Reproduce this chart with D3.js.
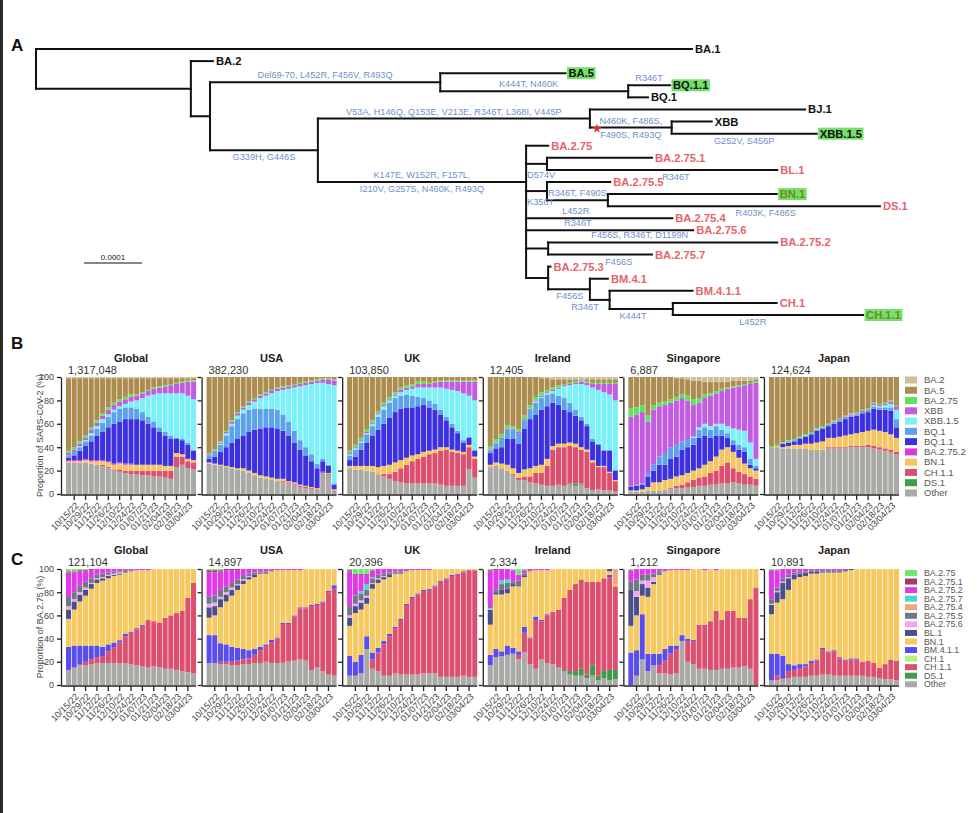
<!DOCTYPE html>
<html>
<head>
<meta charset="utf-8">
<script src="https://cdn.jsdelivr.net/npm/d3@7"></script>
<style>
  body { margin: 0; background: #fff; }
  svg { display: block; }
  text { font-family: "Liberation Sans", Arial, sans-serif; }
</style>
</head>
<body>
<svg id="canvas" width="977" height="813"></svg>
<script>
// ---------- data ----------
const regions = ["Global", "USA", "UK", "Ireland", "Singapore", "Japan"];
const bCounts = [1317048, 382230, 103850, 12405, 6887, 124624];
const cCounts = [121104, 14897, 20396, 2334, 1212, 10891];

const weeks = ["10/08/22","10/15/22","10/22/22","10/29/22","11/05/22","11/12/22","11/19/22","11/26/22",
  "12/03/22","12/10/22","12/17/22","12/24/22","12/31/22","01/07/23","01/14/23","01/21/23","01/28/23",
  "02/04/23","02/11/23","02/18/23","02/25/23","03/04/23","03/11/23"];

const bLineages = ["BA.2","BA.5","BA.2.75","XBB","XBB.1.5","BQ.1","BQ.1.1","BA.2.75.2","BN.1","CH.1.1","DS.1","Other"];
const bColors = ["#cdbf95","#ad8c50","#5fe35f","#c25de3","#7af0f8","#5ca2ea","#3c30df","#e235e2","#f5c55f","#dc4f6e","#3f9d4b","#a9a9a5"];

const cLineages = ["BA.2.75","BA.2.75.1","BA.2.75.2","BA.2.75.7","BA.2.75.4","BA.2.75.5","BA.2.75.6","BL.1","BN.1","BM.4.1.1","CH.1","CH.1.1","DS.1","Other"];
const cColors = ["#6ee86e","#a03a70","#e03ae8","#4ad6d0","#f0a678","#6c7a84","#f0a8ec","#4a4e8c","#f6c860","#5a4df0","#b4f080","#dc4f6e","#449a4c","#a9aaa5"];

// panel B: proportion of SARS-CoV-2 (%) per week
const bGlobal = {
  "Other":     [27,27,27,27,26,25,24,22,20,19,18,17,17,16,16,15,15,14,13,23,25,22,21],
  "CH.1.1":    [0,0,0,0,0,0,1,1,1,2,2,3,3,4,4,5,5,6,7,9,7,6,6],
  "BN.1":      [1,1,1,2,2,3,3,4,4,5,5,5,5,5,5,5,5,4,4,3,2,2,2],
  "BA.2.75.2": [1,1,1,1,1,1,1,1,1,1,1,1,0,0,0,0,0,0,0,0,0,0,0],
  "BQ.1.1":    [2,4,8,11,16,21,24,29,34,35,38,38,39,38,35,32,28,26,23,12,12,12,8],
  "BQ.1":      [2,3,3,4,5,6,8,9,10,11,10,10,9,7,6,5,4,3,3,1,1,2,1],
  "XBB.1.5":   [0,0,1,1,2,2,3,2,2,2,3,5,7,12,18,23,29,33,36,38,39,40,43],
  "XBB":       [2,2,2,2,3,3,3,4,4,4,4,4,4,4,4,5,5,6,7,8,9,12,15],
  "BA.2.75":   [2,2,2,2,2,2,2,2,2,2,2,2,1,1,1,1,1,1,1,1,1,1,1],
  "BA.5":      [62,59,54,49,42,36,30,25,21,18,16,14,14,12,10,8,7,6,5,4,3,2,2],
  "BA.2":      [1,1,1,1,1,1,1,1,1,1,1,1,1,1,1,1,1,1,1,1,1,1,1]
};
const bUSA = {
  "Other":     [26,25,24,23,22,21,20,18,16,14,13,12,11,10,9,8,6,5,4,3,18,16,2],
  "CH.1.1":    [0,0,0,0,0,0,0,0,0,0,0,0,0,1,1,1,1,1,1,1,1,1,1],
  "BN.1":      [1,1,1,1,1,1,2,2,2,2,2,2,2,2,1,1,1,1,1,1,0,1,1],
  "BQ.1.1":    [3,6,11,16,21,25,28,33,37,40,42,43,43,41,39,34,30,26,22,17,9,6,4],
  "BQ.1":      [3,4,6,10,14,17,19,19,18,17,16,16,16,14,12,10,8,7,6,4,2,1,1],
  "XBB.1.5":   [0,0,1,2,2,3,3,4,6,9,11,13,16,21,28,37,46,53,60,69,65,69,84],
  "XBB":       [1,1,1,1,2,2,2,2,2,2,2,2,2,2,2,2,2,2,2,2,3,4,4],
  "BA.2.75":   [1,1,1,1,1,1,1,1,1,1,1,1,1,1,1,1,1,1,1,1,1,1,1],
  "BA.5":      [65,62,55,46,37,30,25,21,18,15,13,11,9,8,7,6,5,4,3,2,1,1,2]
};
const bUK = {
  "Other":     [22,21,21,20,19,17,15,13,11,10,9,9,9,9,9,9,8,7,7,7,7,21,14],
  "CH.1.1":    [0,0,0,0,0,0,2,4,8,12,16,19,21,23,25,26,29,31,29,28,27,19,16],
  "BN.1":      [2,3,3,4,5,6,7,8,8,7,6,5,4,4,3,3,3,2,2,2,2,2,2],
  "BQ.1.1":    [5,8,14,20,26,32,36,40,43,44,43,41,41,40,37,34,28,23,19,15,8,6,5],
  "BQ.1":      [4,6,6,7,8,11,12,13,12,11,11,10,8,6,6,5,4,3,3,2,2,1,1],
  "XBB.1.5":   [1,1,1,1,2,2,3,2,2,3,4,6,8,9,11,14,19,24,29,34,40,35,42],
  "XBB":       [1,1,1,1,1,1,1,1,1,2,2,2,3,3,3,4,5,6,7,8,10,12,16],
  "BA.2.75":   [2,2,2,2,2,2,2,2,2,2,2,2,2,2,1,1,1,1,1,1,1,1,1],
  "BA.5":      [63,58,52,45,37,29,22,17,13,9,7,6,4,4,5,4,3,3,3,3,3,3,3]
};
const bIreland = {
  "Other":     [23,24,22,20,16,12,12,10,9,8,7,7,8,7,8,7,8,5,3,4,3,3,2],
  "DS.1":      [0,0,0,0,0,0,0,0,0,0,0,0,0,0,1,2,1,0,0,0,0,0,0],
  "CH.1.1":    [0,0,0,0,1,2,3,5,9,10,17,31,32,33,32,31,29,31,24,19,20,15,9],
  "BN.1":      [2,3,4,5,5,4,6,7,6,7,6,3,3,3,3,3,2,2,2,1,1,1,1],
  "BQ.1.1":    [10,12,14,22,25,25,35,42,44,47,45,37,33,29,26,24,23,20,16,18,13,18,8],
  "BQ.1":      [2,4,7,8,8,9,7,8,10,10,10,8,8,10,8,5,3,2,2,1,1,1,1],
  "XBB.1.5":   [0,0,0,0,0,0,0,0,1,1,1,2,6,10,15,22,28,33,44,46,49,47,59],
  "XBB":       [1,1,1,1,1,1,1,1,1,1,1,1,1,1,1,1,2,2,3,5,7,9,14],
  "BA.2.75":   [3,3,3,3,2,2,3,3,3,3,2,2,2,1,1,1,1,1,1,1,1,1,1],
  "BA.5":      [59,53,49,41,42,45,33,24,17,12,10,7,5,4,3,2,1,2,3,3,3,3,3],
  "BA.2":      [0,0,0,0,0,0,0,0,0,1,1,2,2,2,2,2,2,2,2,2,2,2,2]
};
const bSingapore = {
  "Other":     [2,2,2,3,3,3,4,4,5,5,6,6,7,7,8,8,9,9,10,9,8,8,7],
  "CH.1.1":    [0,0,0,0,0,0,0,1,2,3,4,6,7,8,10,12,15,18,12,10,9,7,6],
  "BN.1":      [1,1,2,3,7,7,8,8,8,8,8,8,8,10,10,12,14,13,14,12,9,7,7],
  "BQ.1.1":    [3,4,4,9,10,15,13,17,17,22,22,22,26,25,20,18,12,8,6,7,10,3,2],
  "BQ.1":      [1,1,1,3,5,7,10,10,10,7,7,6,7,7,7,8,5,4,4,4,4,5,2],
  "XBB.1.5":   [0,0,0,0,0,0,0,0,0,0,0,1,2,3,3,2,5,6,10,13,14,14,6],
  "XBB":       [59,60,61,44,47,43,41,38,38,37,33,27,21,22,26,26,28,32,35,37,39,50,65],
  "BA.2.75":   [7,6,6,5,4,3,3,3,3,3,4,5,4,3,2,2,2,1,1,1,1,1,1],
  "BA.5":      [27,26,24,33,24,22,21,19,16,14,14,16,15,11,10,8,6,5,5,4,3,2,2],
  "BA.2":      [0,0,0,0,0,0,0,0,1,1,2,3,3,4,4,4,4,4,3,3,3,3,2]
};
const bJapan = {
  "Other":     [40,40,39,39,39,39,39,38,38,38,39,39,39,39,40,40,40,40,39,38,37,36,34],
  "CH.1.1":    [0,0,0,0,0,0,0,0,0,0,1,1,1,1,1,1,1,2,2,2,2,2,2],
  "BN.1":      [0,1,1,2,3,3,4,5,6,7,8,8,9,10,10,11,12,12,14,14,14,13,12],
  "BQ.1.1":    [0,0,3,3,3,5,6,8,10,11,10,12,13,14,15,15,16,16,18,18,19,20,9],
  "BQ.1":      [0,0,0,1,1,1,1,1,1,1,1,1,1,1,1,1,1,1,2,2,2,3,7],
  "XBB.1.5":   [0,0,0,0,0,0,0,0,0,0,0,0,0,0,0,0,0,0,1,1,2,3,8],
  "XBB":       [0,0,0,0,0,0,0,0,0,0,0,1,1,1,1,1,1,1,1,1,1,2,3],
  "BA.2.75":   [1,1,1,1,1,1,1,1,1,1,1,1,1,1,1,1,1,1,1,1,1,1,1],
  "BA.5":      [59,58,56,54,53,51,49,47,44,42,40,37,35,33,31,30,28,27,22,23,22,20,24]
};

// panel C: proportion of BA.2.75 (%) per week
const cGlobal = {
  "Other":     [13,15,17,17,18,19,19,19,19,19,19,18,17,16,15,16,15,14,14,13,12,11,10],
  "CH.1.1":    [0,0,1,3,4,5,6,10,14,18,23,27,31,35,41,39,39,44,46,49,52,64,78],
  "BM.4.1.1":  [20,19,16,14,12,10,8,6,4,2,2,1,1,1,0,0,0,0,0,0,0,0,0],
  "BN.1":      [24,31,38,43,49,54,57,57,58,57,53,52,50,47,43,45,46,42,40,38,36,25,12],
  "BL.1":      [8,7,6,5,4,3,2,2,1,1,1,0,0,0,0,0,0,0,0,0,0,0,0],
  "BA.2.75.6": [3,2,2,2,1,1,1,1,1,1,0,0,0,0,0,0,0,0,0,0,0,0,0],
  "BA.2.75.5": [7,6,6,5,4,3,3,2,2,1,1,1,0,0,0,0,0,0,0,0,0,0,0],
  "BA.2.75.2": [22,17,12,9,7,5,4,3,2,2,1,1,1,1,1,0,0,0,0,0,0,0,0],
  "BA.2.75.1": [1,1,1,1,1,0,0,0,0,0,0,0,0,0,0,0,0,0,0,0,0,0,0],
  "BA.2.75":   [2,2,1,1,0,0,0,0,0,0,0,0,0,0,0,0,0,0,0,0,0,0,0]
};
const cUSA = {
  "Other":     [19,19,18,18,17,17,18,18,19,19,20,19,19,19,20,21,22,21,13,15,12,9,8],
  "CH.1.1":    [0,0,2,2,3,4,4,5,7,11,13,18,21,33,32,38,44,45,55,54,59,71,75],
  "BM.4.1.1":  [24,24,16,15,13,11,9,7,5,3,2,2,1,1,1,1,1,1,1,1,1,1,3],
  "BN.1":      [15,17,31,37,44,50,56,61,62,63,61,59,58,45,45,39,32,33,31,30,28,19,14],
  "BL.1":      [9,8,7,6,5,4,3,2,2,1,1,0,0,0,0,0,0,0,0,0,0,0,0],
  "BA.2.75.6": [3,3,2,2,2,1,1,1,0,0,0,0,0,0,0,0,0,0,0,0,0,0,0],
  "BA.2.75.5": [6,6,6,5,4,4,3,2,2,1,1,1,0,0,0,0,0,0,0,0,0,0,0],
  "BA.2.75.2": [21,20,16,14,11,8,6,4,3,2,2,1,1,1,1,1,1,0,0,0,0,0,0],
  "BA.2.75.1": [2,2,1,1,1,1,0,0,0,0,0,0,0,0,0,0,0,0,0,0,0,0,0],
  "BA.2.75":   [1,1,1,0,0,0,0,0,0,0,0,0,0,0,0,0,0,0,0,0,0,0,0]
};
const cUK = {
  "Other":     [8,8,10,31,14,12,8,8,10,9,9,9,9,10,10,10,7,7,7,7,8,7,7],
  "CH.1.1":    [0,0,0,0,8,16,27,34,39,47,60,66,69,71,72,74,82,84,87,88,89,92,92],
  "BM.4.1.1":  [17,12,16,11,6,4,3,2,1,1,1,1,1,1,1,1,1,1,1,1,1,0,0],
  "BN.1":      [26,42,39,28,55,56,53,49,46,39,28,23,20,17,16,14,10,8,5,4,2,1,1],
  "BL.1":      [7,6,6,5,4,3,2,2,1,1,0,0,0,0,0,0,0,0,0,0,0,0,0],
  "BA.2.75.6": [2,2,2,2,1,1,1,0,0,0,0,0,0,0,0,0,0,0,0,0,0,0,0],
  "BA.2.75.5": [8,7,6,5,4,3,2,2,1,1,1,0,0,0,0,0,0,0,0,0,0,0,0],
  "BA.2.75.7": [0,0,2,5,1,0,0,0,0,0,0,0,0,0,0,0,0,0,0,0,0,0,0],
  "BA.2.75.2": [30,18,14,8,6,5,4,3,2,2,1,1,1,1,1,0,0,0,0,0,0,0,0],
  "BA.2.75.1": [1,1,1,1,0,0,0,0,0,0,0,0,0,0,0,0,0,0,0,0,0,0,0],
  "BA.2.75":   [1,4,4,4,1,0,0,0,0,0,0,0,0,0,0,0,0,0,0,0,0,0,0]
};
const cIreland = {
  "Other":     [17,24,25,26,27,22,28,18,14,22,19,18,15,12,9,8,8,6,8,4,6,4,5],
  "DS.1":      [0,0,0,0,0,0,0,0,0,0,0,0,0,1,3,4,6,3,9,4,6,9,8],
  "CH.1.1":    [0,0,0,0,0,4,17,22,42,33,41,45,50,62,70,75,77,80,72,81,80,80,72],
  "BM.4.1.1":  [9,7,4,8,5,3,5,1,3,1,1,0,0,0,0,0,0,0,0,0,0,2,0],
  "BN.1":      [26,47,49,45,53,56,43,57,40,43,38,37,35,25,18,13,9,11,11,11,8,3,2],
  "BL.1":      [13,2,4,4,2,1,1,0,0,0,0,0,0,0,0,0,0,0,0,0,0,2,0],
  "BA.2.75.6": [1,0,0,0,0,0,0,0,0,0,0,0,0,0,0,0,0,0,0,0,0,0,0],
  "BA.2.75.5": [2,2,5,5,2,4,2,1,0,0,0,0,0,0,0,0,0,0,0,0,0,0,0],
  "BA.2.75.4": [0,0,0,0,0,0,0,0,0,0,0,0,0,0,0,0,0,0,0,0,0,0,13],
  "BA.2.75.7": [0,0,3,3,0,0,0,0,0,0,0,0,0,0,0,0,0,0,0,0,0,0,0],
  "BA.2.75.2": [30,17,10,9,10,5,3,1,1,1,1,0,0,0,0,0,0,0,0,0,0,0,0],
  "BA.2.75.1": [1,1,0,0,0,0,0,0,0,0,0,0,0,0,0,0,0,0,0,0,0,0,0],
  "BA.2.75":   [1,0,0,0,1,5,1,0,0,0,0,0,0,0,0,0,0,0,0,0,0,0,0]
};
const cSingapore = {
  "Other":     [0,8,22,12,17,10,10,9,10,38,20,18,14,14,13,13,14,14,15,15,16,14,0],
  "CH.1.1":    [0,0,0,0,0,7,11,18,21,0,18,20,38,38,42,51,42,50,49,43,42,60,84],
  "BM.4.1.1":  [28,22,39,15,10,10,10,7,3,5,2,1,0,0,0,0,0,0,0,0,0,0,0],
  "BN.1":      [23,30,16,49,60,68,67,65,65,56,59,61,48,47,45,35,44,36,36,42,42,26,16],
  "BL.1":      [31,16,10,8,2,1,0,0,0,0,0,0,0,0,0,0,0,0,0,0,0,0,0],
  "BA.2.75.6": [0,5,3,6,4,0,0,0,0,0,0,0,0,0,0,0,0,0,0,0,0,0,0],
  "BA.2.75.5": [7,10,5,5,3,2,1,0,0,0,0,0,0,0,0,0,0,0,0,0,0,0,0],
  "BA.2.75.2": [10,9,5,5,4,2,1,1,1,1,1,0,0,1,0,1,0,0,0,0,0,0,0],
  "BA.2.75":   [1,0,0,0,0,0,0,0,0,0,0,0,0,0,0,0,0,0,0,0,0,0,0]
};
const cJapan = {
  "Other":     [4,4,5,6,7,7,7,8,8,9,9,8,8,8,8,8,8,7,7,6,5,5,4],
  "CH.1.1":    [0,4,1,6,6,7,9,11,13,22,19,21,15,13,14,14,12,14,12,9,13,17,17],
  "BM.4.1.1":  [23,19,19,6,4,4,2,2,1,1,1,1,1,1,1,1,0,0,0,0,0,0,0],
  "BN.1":      [34,44,49,64,74,75,76,75,74,65,68,67,73,76,76,77,80,79,81,85,82,78,79],
  "BL.1":      [8,9,14,10,4,3,3,2,2,1,1,1,1,1,1,0,0,0,0,0,0,0,0],
  "BA.2.75.6": [1,1,1,1,0,0,0,0,0,0,0,0,0,0,0,0,0,0,0,0,0,0,0],
  "BA.2.75.5": [4,3,3,2,2,2,1,1,1,1,1,1,1,0,0,0,0,0,0,0,0,0,0],
  "BA.2.75.2": [25,15,8,5,3,2,2,1,1,1,1,1,1,1,0,0,0,0,0,0,0,0,0],
  "BA.2.75":   [1,1,0,0,0,0,0,0,0,0,0,0,0,0,0,0,0,0,0,0,0,0,0]
};

// panel A: tree, branch lengths in units of 1e-5 substitutions/site
const treeNodes = [
  { id: "root", parent: null, len: 0 },
  { id: "BA.1", parent: "root", len: 113.1 },
  { id: "n1", parent: "root", len: 26.7 },
  { id: "BA.2", parent: "n1", len: 3.8 },
  { id: "n2", parent: "n1", len: 3.3 },
  { id: "n3", parent: "n2", len: 39.7 },
  { id: "BA.5", parent: "n3", len: 21.6 },
  { id: "n4", parent: "n3", len: 32.4 },
  { id: "BQ.1.1", parent: "n4", len: 7.2 },
  { id: "BQ.1", parent: "n4", len: 3.4 },
  { id: "n5", parent: "n2", len: 18.6 },
  { id: "n6", parent: "n5", len: 46.9 },
  { id: "BJ.1", parent: "n6", len: 37.1 },
  { id: "n7", parent: "n6", len: 14.1 },
  { id: "XBB", parent: "n7", len: 6.9 },
  { id: "XBB.1.5", parent: "n7", len: 25 },
  { id: "n8", parent: "n5", len: 35.9, at: "BA.2.75.5" },
  { id: "BA.2.75", parent: "n8", len: 3.8 },
  { id: "n9", parent: "n8", len: 3.6 },
  { id: "BA.2.75.1", parent: "n9", len: 18.1 },
  { id: "BL.1", parent: "n9", len: 39.7 },
  { id: "n10", parent: "n8", len: 3.6 },
  { id: "BA.2.75.5", parent: "n10", len: 10.9 },
  { id: "n11", parent: "n10", len: 10.5 },
  { id: "BN.1", parent: "n11", len: 29.1 },
  { id: "DS.1", parent: "n11", len: 46.9 },
  { id: "BA.2.75.4", parent: "n8", len: 25.2 },
  { id: "BA.2.75.6", parent: "n8", len: 28.8 },
  { id: "n12", parent: "n8", len: 3.8 },
  { id: "BA.2.75.2", parent: "n12", len: 39.5 },
  { id: "BA.2.75.7", parent: "n12", len: 17.9 },
  { id: "n13", parent: "n8", len: 3.8 },
  { id: "BA.2.75.3", parent: "n13", len: 0.4 },
  { id: "n14", parent: "n13", len: 7.2 },
  { id: "BM.4.1", parent: "n14", len: 3.1 },
  { id: "n15", parent: "n14", len: 3.4 },
  { id: "BM.4.1.1", parent: "n15", len: 14.3 },
  { id: "n16", parent: "n15", len: 10.9 },
  { id: "CH.1", parent: "n16", len: 17.9 },
  { id: "CH.1.1", parent: "n16", len: 32.8 }
];
const highlighted = ["BA.5", "BQ.1.1", "XBB.1.5", "BN.1", "CH.1.1"];

// mutations on branches (f = fraction along the branch)
const mutations = [
  { node: "n3", text: "Del69-70, L452R, F456V, R493Q", side: "above", f: 0.5 },
  { node: "n4", text: "K444T, N460K", side: "above", f: 0.47 },
  { node: "BQ.1.1", text: "R346T", side: "above", f: 0.5 },
  { node: "n5", text: "G339H, G446S", side: "below", f: 0.5 },
  { node: "n6", text: "V53A, H146Q, Q153E, V213E, R346T, L368I, V445P", side: "above", f: 0.5 },
  { node: "n7", text: "N460K, F486S,", side: "above", f: 0.5 },
  { node: "n7", text: "F490S, R493Q", side: "below", f: 0.5 },
  { node: "XBB.1.5", text: "G252V, S456P", side: "below", f: 0.5 },
  { node: "n8", text: "K147E, W152R, F157L,", side: "above", f: 0.5 },
  { node: "n8", text: "I210V, G257S, N460K, R493Q", side: "below", f: 0.5 },
  { node: "n9", text: "D574V", side: "under", f: 0 },
  { node: "BL.1", text: "R346T", side: "below", f: 0.56 },
  { node: "n10", text: "K356T", side: "under", f: 0 },
  { node: "n11", text: "R346T, F490S", side: "above", f: 0.5 },
  { node: "DS.1", text: "R403K, F486S", side: "below", f: 0.58 },
  { node: "BA.2.75.4", text: "L452R", side: "above", f: 0.34 },
  { node: "BA.2.75.6", text: "R346T", side: "above", f: 0.31 },
  { node: "BA.2.75.2", text: "F456S, R346T, D1199N", side: "above", f: 0.4 },
  { node: "BA.2.75.7", text: "F456S", side: "below", f: 0.68 },
  { node: "n14", text: "F456S", side: "below", f: 0.52 },
  { node: "n15", text: "R346T", side: "below", f: -0.25 },
  { node: "n16", text: "K444T", side: "below", f: 0.37 },
  { node: "CH.1.1", text: "L452R", side: "below", f: 0.42 }
];

// ---------- drawing ----------
const svg = d3.select("#canvas");
svg.append("rect").attr("width", 977).attr("height", 813).attr("fill", "#fff");
svg.append("rect").attr("x", 0).attr("y", 0).attr("width", 3).attr("height", 813).attr("fill", "#2b2b2b");

// panel letters
[["A", 51], ["B", 349], ["C", 565]].forEach(([t, y]) => {
  svg.append("text").attr("x", 11).attr("y", y).attr("font-size", 17).attr("font-weight", "bold")
    .attr("fill", "#111").text(t);
});

// ---- tree ----
const root = d3.stratify().id(d => d.id).parentId(d => d.parent)(treeNodes);
root.eachBefore(n => { n.dist = (n.parent ? n.parent.dist : 0) + n.data.len * 1e-5; });
const tx = d3.scaleLinear().domain([0, 1e-4]).range([36, 94]);
const leafY = d3.scalePoint().domain(root.leaves().map(d => d.id)).range([49, 315]);
root.eachAfter(n => {
  if (!n.children) n.ty = leafY(n.id);
  else if (n.data.at) n.ty = leafY(n.data.at);
  else n.ty = (n.children[0].ty + n.children[n.children.length - 1].ty) / 2;
  n.tx = tx(n.dist);
});

const gTree = svg.append("g").attr("stroke", "#111").attr("stroke-width", 2).attr("stroke-linecap", "square");
root.descendants().forEach(n => {
  if (n.children) {
    gTree.append("line").attr("x1", n.tx).attr("x2", n.tx)
      .attr("y1", d3.min(n.children, c => c.ty)).attr("y2", d3.max(n.children, c => c.ty));
  }
  if (n.parent) {
    gTree.append("line").attr("x1", n.parent.tx).attr("x2", n.tx).attr("y1", n.ty).attr("y2", n.ty);
  }
});

const ba275 = root.find(n => n.id === "n8");
const gLab = svg.append("g");
root.leaves().forEach(n => {
  const inClade = n.ancestors().includes(ba275);
  const hl = highlighted.includes(n.id);
  let fill = inClade ? "#e5646a" : "#111";
  if (hl && inClade) fill = "#6f8a26";
  const t = gLab.append("text").attr("x", n.tx + 3).attr("y", n.ty).attr("dy", "0.36em")
    .attr("font-size", 11.2).attr("font-weight", "bold").attr("fill", fill).text(n.id);
  if (hl) {
    const bb = t.node().getBBox();
    gLab.insert("rect", () => t.node())
      .attr("x", bb.x - 1.5).attr("y", bb.y).attr("width", bb.width + 3).attr("height", bb.height)
      .attr("fill", "#74e06a");
  }
});

const byId = new Map(root.descendants().map(n => [n.id, n]));
mutations.forEach(m => {
  const n = byId.get(m.node);
  const p = n.parent;
  let x = p.tx + m.f * (n.tx - p.tx);
  let y = n.ty - 4;
  let anchor = "middle";
  if (m.side === "below") y = n.ty + 10;
  if (m.side === "under") { x = p.tx + 1; y = n.ty + 14; anchor = "start"; }
  svg.append("text").attr("x", x).attr("y", y).attr("text-anchor", anchor)
    .attr("font-size", 9.2).attr("fill", "#6f8fc9").text(m.text);
});

// red star on the XBB branch
const n7 = byId.get("n7");
svg.append("path").attr("d", d3.symbol().type(d3.symbolStar).size(28)())
  .attr("transform", `translate(${n7.parent.tx + 7},${n7.ty + 1})`).attr("fill", "#e0302c");

// scale bar
const sb0 = 84;
svg.append("line").attr("x1", sb0).attr("x2", sb0 + tx(1e-4) - tx(0)).attr("y1", 263).attr("y2", 263)
  .attr("stroke", "#111").attr("stroke-width", 1);
svg.append("text").attr("x", sb0 + (tx(1e-4) - tx(0)) / 2).attr("y", 260).attr("text-anchor", "middle")
  .attr("font-size", 8).attr("fill", "#222").text("0.0001");

// ---- stacked bar panels ----
const panelX = d3.scaleBand().domain(regions).range([66, 899]).paddingInner(0.075);
const tickWeeks = weeks.filter((d, i) => i % 2 === 1);

function drawPanel(datasets, counts, lineages, colors, top, bottom, yTitle, legY0, legStep, swH, legFont) {
  const color = d3.scaleOrdinal(lineages, colors);
  const keys = lineages.slice().reverse();
  const y = d3.scaleLinear().domain([0, 100]).range([bottom, top]);
  const stack = d3.stack().keys(keys).offset(d3.stackOffsetExpand);

  datasets.forEach((ds, i) => {
    const x0 = panelX(regions[i]);
    const w = panelX.bandwidth();
    const xb = d3.scaleBand().domain(weeks).range([x0, x0 + w]).paddingInner(0.12);
    const rows = weeks.map((wk, j) => {
      const r = { week: wk };
      keys.forEach(k => { r[k] = ds[k] ? ds[k][j] : 0; });
      return r;
    });
    const g = svg.append("g");
    g.selectAll("g.series").data(stack(rows)).join("g")
      .attr("class", "series").attr("fill", s => color(s.key))
      .selectAll("rect").data(s => s).join("rect")
      .attr("x", d => xb(d.data.week)).attr("width", xb.bandwidth())
      .attr("y", d => y(d[1] * 100)).attr("height", d => Math.max(0, y(d[0] * 100) - y(d[1] * 100)));

    // y axis
    const ay = g.append("g").attr("transform", `translate(${x0 - 5},0)`)
      .call(d3.axisLeft(y).tickValues([0, 20, 40, 60, 80, 100]).tickSize(4).tickSizeOuter(0)
        .tickFormat(i === 0 ? d3.format("d") : () => ""));
    // x axis
    const ax = g.append("g").attr("transform", `translate(0,${bottom + 1})`)
      .call(d3.axisBottom(xb).tickValues(tickWeeks).tickSize(5).tickSizeOuter(0));
    ax.select(".domain").remove();
    g.append("line").attr("x1", x0 - 5).attr("x2", x0 + w).attr("y1", bottom + 1).attr("y2", bottom + 1)
      .attr("stroke", "#222").attr("stroke-width", 1.3);
    [ay, ax].forEach(a => {
      a.selectAll("path, line").attr("stroke", "#222").attr("stroke-width", 1.3);
      a.selectAll("text").attr("font-size", 9).attr("fill", "#444")
        .attr("font-family", "'Liberation Sans', Arial, sans-serif");
    });
    ax.selectAll("text").attr("x", 0).attr("y", 0).attr("dy", "0.35em")
      .attr("transform", "translate(3,9) rotate(-45)").style("text-anchor", "end");

    // title and sequence count
    g.append("text").attr("x", x0 + w / 2).attr("y", top - 15).attr("text-anchor", "middle")
      .attr("font-size", 11).attr("font-weight", "bold").attr("fill", "#222").text(regions[i]);
    g.append("text").attr("x", x0 + 2).attr("y", top - 3).attr("font-size", 11).attr("fill", "#333")
      .text(d3.format(",")(counts[i]));
  });

  svg.append("text").attr("transform", `translate(43,${(top + bottom) / 2}) rotate(-90)`)
    .attr("text-anchor", "middle").attr("font-size", 9).attr("fill", "#444").text(yTitle);

  const lg = svg.append("g");
  lineages.forEach((k, i) => {
    const yy = legY0 + i * legStep;
    lg.append("rect").attr("x", 905).attr("y", yy - swH / 2).attr("width", 12).attr("height", swH)
      .attr("fill", color(k));
    lg.append("text").attr("x", 924).attr("y", yy).attr("dy", "0.35em").attr("font-size", legFont)
      .attr("fill", "#555").text(k);
  });
}

drawPanel([bGlobal, bUSA, bUK, bIreland, bSingapore, bJapan], bCounts, bLineages, bColors,
  377, 494, "Proportion of SARS-CoV-2 (%)", 380, 10.27, 7, 9.5);
drawPanel([cGlobal, cUSA, cUK, cIreland, cSingapore, cJapan], cCounts, cLineages, cColors,
  569, 685, "Proportion of BA.2.75 (%)", 573, 8.56, 6, 8.8);
</script>
</body>
</html>
